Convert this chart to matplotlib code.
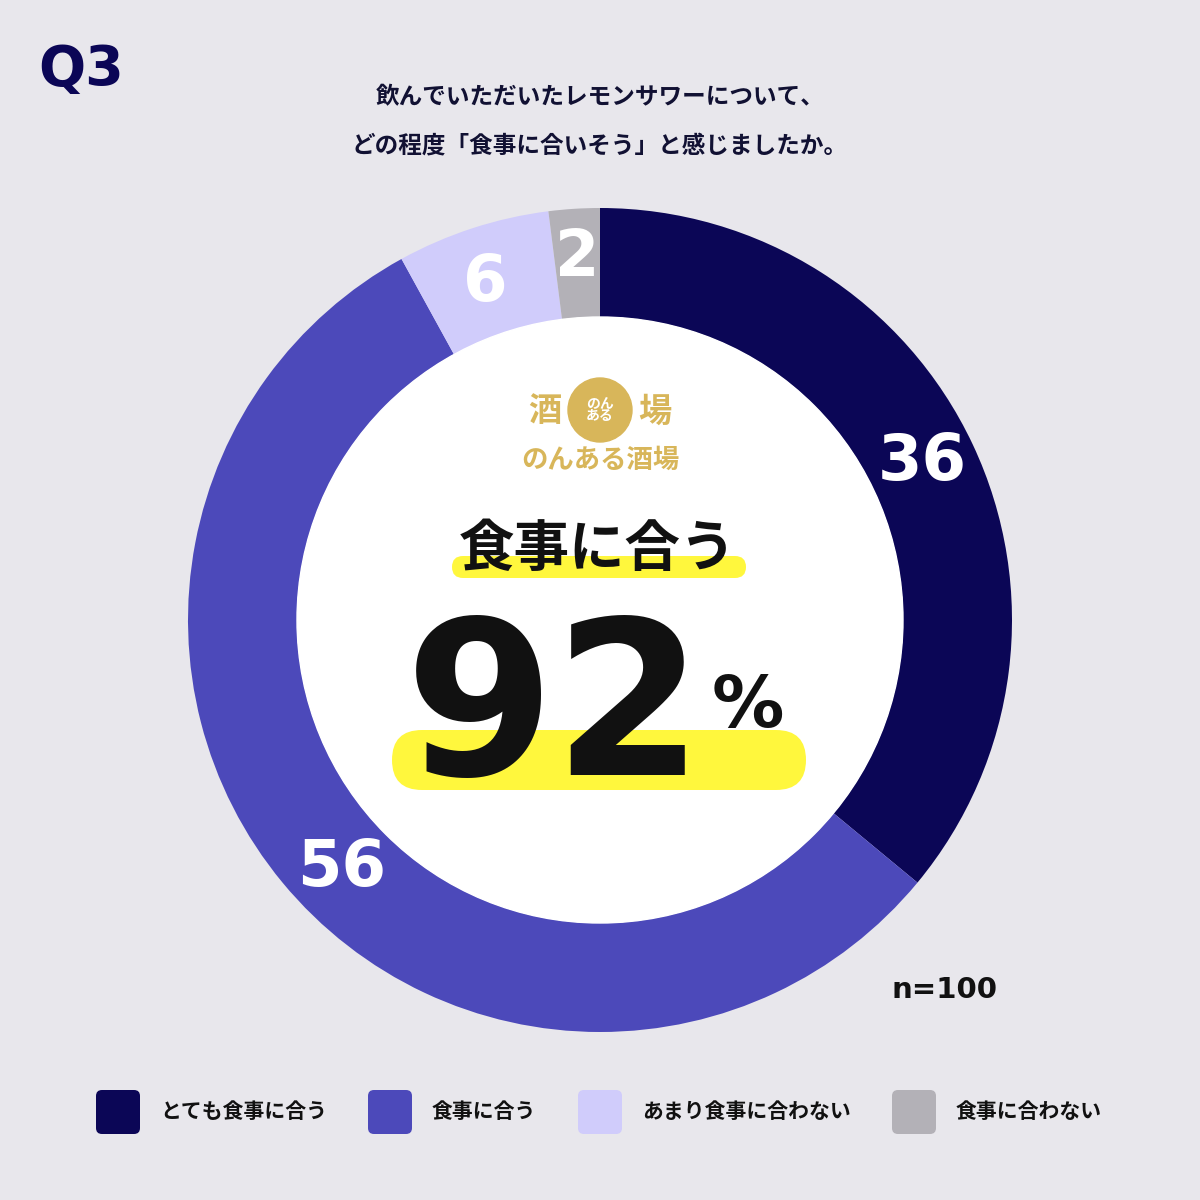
import matplotlib
matplotlib.use("Agg")
import matplotlib.pyplot as plt
from matplotlib.patches import FancyBboxPatch, Circle

plt.rcParams['font.family'] = ['Noto Sans CJK JP', 'DejaVu Sans']

categories = ["とても食事に合う", "食事に合う", "あまり食事に合わない", "食事に合わない"]
values = [36, 56, 6, 2]
colors = ["#0B0656", "#4C49BA", "#D0CCFB", "#B3B1B7"]
label_pos = [(922, 462), (342, 868), (485, 283), (577, 258)]
bg = "#E8E7EC"

fig = plt.figure(figsize=(12, 12), dpi=100, facecolor=bg)
ax = fig.add_axes([0, 0, 1, 1])
ax.set_xlim(0, 1200)
ax.set_ylim(1200, 0)
ax.axis("off")

# donut
cx, cy, r_out, r_in = 600, 620, 412, 303
pax = fig.add_axes([(cx - r_out) / 1200, (1200 - cy - r_out) / 1200, 2 * r_out / 1200, 2 * r_out / 1200])
pax.pie(values, colors=colors, startangle=90, counterclock=False, radius=1,
        wedgeprops=dict(width=(r_out - r_in) / r_out, linewidth=0))
pax.add_patch(Circle((0, 0), r_in / r_out, color="white", zorder=3))
pax.set_xlim(-1, 1)
pax.set_ylim(-1, 1)
pax.set_aspect("equal")
pax.axis("off")

ax2 = fig.add_axes([0, 0, 1, 1])
ax2.set_xlim(0, 1200)
ax2.set_ylim(1200, 0)
ax2.axis("off")

for v, (x, y) in zip(values, label_pos):
    ax2.text(x, y, str(v), color="white", fontsize=46, fontweight="bold",
             ha="center", va="center", family="DejaVu Sans")

ax2.text(38, 70, "Q3", color="#0B0656", fontsize=40, fontweight="bold", va="center", family="DejaVu Sans")
ax2.text(600, 97, "飲んでいただいたレモンサワーについて、", fontsize=17, fontweight="bold",
         color="#111133", ha="center", va="center")
ax2.text(600, 145, "どの程度「食事に合いそう」と感じましたか。", fontsize=17, fontweight="bold",
         color="#111133", ha="center", va="center")

# logo
gold = "#D8B65A"
ax2.text(545, 412, "酒", fontsize=24, color=gold, ha="center", va="center", fontweight="bold")
ax2.text(655, 412, "場", fontsize=24, color=gold, ha="center", va="center", fontweight="bold")
ax2.add_patch(Circle((600, 410), 32, color=gold))
ax2.text(600, 410, "のん\nある", fontsize=10, color="white", ha="center", va="center",
         fontweight="bold", linespacing=0.9)
ax2.text(600, 460, "のんある酒場", fontsize=19, color=gold, ha="center", va="center", fontweight="bold")

# highlights
yellow = "#FFF73D"
ax2.add_patch(FancyBboxPatch((452, 556), 294, 22, boxstyle="round,pad=0,rounding_size=11",
                             color=yellow, linewidth=0))
ax2.add_patch(FancyBboxPatch((392, 730), 414, 60, boxstyle="round,pad=0,rounding_size=30",
                             color=yellow, linewidth=0))
ax2.text(598, 550, "食事に合う", fontsize=40, fontweight="bold", color="#111111", ha="center", va="center")
ax2.text(555, 716, "92", fontsize=155, fontweight="bold", color="#111111", ha="center", va="center",
         family="DejaVu Sans")
ax2.text(748, 708, "%", fontsize=52, fontweight="bold", color="#111111", ha="center", va="center",
         family="DejaVu Sans")

ax2.text(945, 990, "n=100", fontsize=21, fontweight="bold", color="#111111", ha="center", va="center",
         family="DejaVu Sans")

# legend
leg_x = [96, 368, 578, 892]
for x, c, lab in zip(leg_x, colors, categories):
    ax2.add_patch(FancyBboxPatch((x, 1090), 44, 44, boxstyle="round,pad=0,rounding_size=6",
                                 color=c, linewidth=0))
    ax2.text(x + 64, 1112, lab, fontsize=15, fontweight="bold", color="#111111", va="center")

fig.savefig("out.png", dpi=100, facecolor=bg)
